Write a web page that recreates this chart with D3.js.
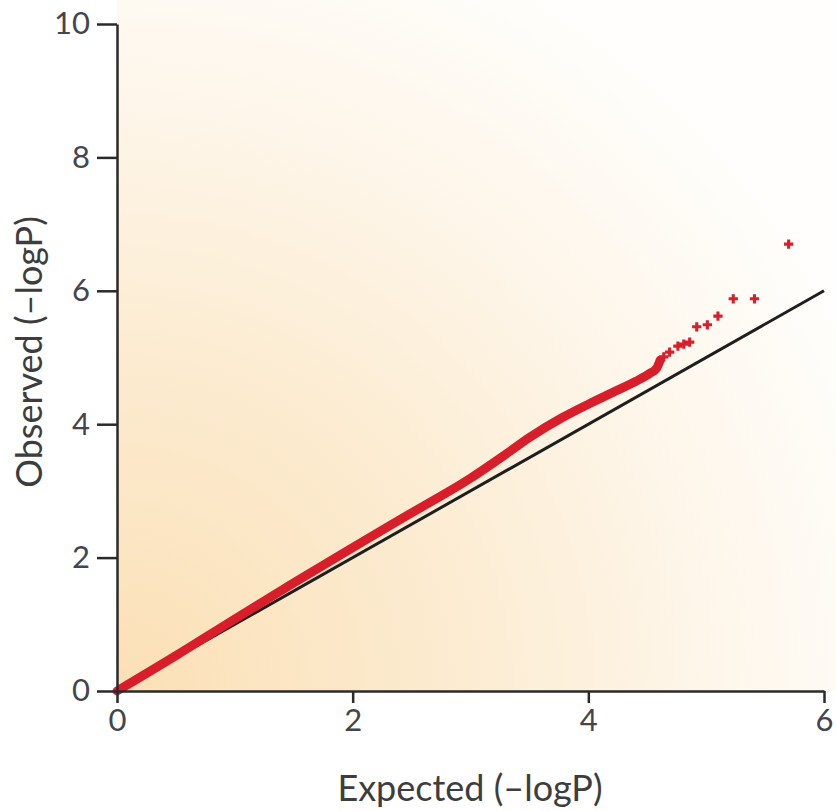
<!DOCTYPE html>
<html>
<head>
<meta charset="utf-8">
<script src="https://cdn.jsdelivr.net/npm/d3@7"></script>
<style>
  html, body { margin: 0; padding: 0; background: #ffffff; }
  svg { display: block; }
  .tick text { font-family: Lato, "Open Sans", sans-serif; fill: #45454d; }
</style>
</head>
<body>
<div id="chart"></div>
<script>
// dense part of the QQ band (expected vs observed -logP)
const bandExpected = [0, 0.5, 1.0, 1.5, 2.0, 2.5, 3.0, 3.3, 3.5, 3.78, 4.0, 4.2, 4.4, 4.52, 4.58, 4.61];
const bandObserved = [0, 0.53, 1.08, 1.62, 2.15, 2.67, 3.19, 3.55, 3.8, 4.1, 4.3, 4.47, 4.64, 4.76, 4.84, 4.96];

// sparse tail points
const tailExpected = [4.64, 4.69, 4.76, 4.81, 4.86, 4.92, 5.01, 5.10, 5.23, 5.41, 5.70];
const tailObserved = [5.01, 5.08, 5.17, 5.20, 5.23, 5.46, 5.49, 5.62, 5.88, 5.88, 6.70];

// null line y = x
const nullLine = [0, 6];

const xTicks = [0, 2, 4, 6];
const yTicks = [0, 2, 4, 6, 8, 10];

const width = 836;
const height = 811;

const x = d3.scaleLinear().domain([0, 6]).range([117, 824]);
const y = d3.scaleLinear().domain([0, 10]).range([691, 24]);

const svg = d3.select('#chart')
  .append('svg')
  .attr('width', width)
  .attr('height', height);

// warm radial wash from the origin corner
const defs = svg.append('defs');
const grad = defs.append('radialGradient')
  .attr('id', 'wash')
  .attr('gradientUnits', 'userSpaceOnUse')
  .attr('cx', x(0)).attr('cy', y(0))
  .attr('r', 820);
grad.append('stop').attr('offset', 0).attr('stop-color', '#fbe0b6');
grad.append('stop').attr('offset', 0.4).attr('stop-color', '#fcebd0');
grad.append('stop').attr('offset', 0.75).attr('stop-color', '#fef7ec');
grad.append('stop').attr('offset', 1).attr('stop-color', '#fffefc');

svg.append('rect')
  .attr('x', x(0))
  .attr('y', 0)
  .attr('width', width - x(0))
  .attr('height', y(0))
  .attr('fill', 'url(#wash)');

// expected line
svg.append('line')
  .attr('x1', x(nullLine[0])).attr('y1', y(nullLine[0]))
  .attr('x2', x(nullLine[1])).attr('y2', y(nullLine[1]))
  .attr('stroke', '#1e1e1e')
  .attr('stroke-width', 3);

// dense band
const band = bandExpected.map((e, i) => [e, bandObserved[i]]);
svg.append('path')
  .datum(band)
  .attr('d', d3.line().curve(d3.curveMonotoneX).x(d => x(d[0])).y(d => y(d[1])))
  .attr('fill', 'none')
  .attr('stroke', '#d81e2b')
  .attr('stroke-width', 9)
  .attr('stroke-linecap', 'round')
  .attr('stroke-linejoin', 'round');

// tail points
const tail = tailExpected.map((e, i) => [e, tailObserved[i]]);
svg.append('g')
  .selectAll('path')
  .data(tail)
  .enter().append('path')
  .attr('transform', d => 'translate(' + x(d[0]) + ',' + y(d[1]) + ')')
  .attr('d', d3.symbol().type(d3.symbolCross).size(48))
  .attr('fill', '#d81e2b');

// axes
const xAxis = svg.append('g')
  .attr('transform', 'translate(0,' + y(0) + ')')
  .call(d3.axisBottom(x).tickValues(xTicks).tickFormat(d3.format('d'))
    .tickSize(12).tickSizeOuter(0).tickPadding(6));
const yAxis = svg.append('g')
  .attr('transform', 'translate(' + x(0) + ',0)')
  .call(d3.axisLeft(y).tickValues(yTicks).tickFormat(d3.format('d'))
    .tickSize(20).tickSizeOuter(0).tickPadding(7));

[xAxis, yAxis].forEach(a => {
  a.select('.domain').attr('stroke', '#2a2a2a').attr('stroke-width', 2.5);
  a.selectAll('.tick line').attr('stroke', '#2a2a2a').attr('stroke-width', 2.5);
  a.selectAll('.tick text').style('font-size', '31px');
});

// axis titles
svg.append('text')
  .attr('x', 470)
  .attr('y', 801)
  .attr('text-anchor', 'middle')
  .style('font-family', 'Lato, "Open Sans", sans-serif')
  .style('font-size', '36px')
  .attr('fill', '#3d3d3d')
  .text('Expected (\u2013logP)');

svg.append('text')
  .attr('transform', 'translate(42,352) rotate(-90)')
  .attr('text-anchor', 'middle')
  .style('font-family', 'Lato, "Open Sans", sans-serif')
  .style('font-size', '36px')
  .attr('fill', '#3d3d3d')
  .text('Observed (\u2013logP)');
</script>
</body>
</html>
